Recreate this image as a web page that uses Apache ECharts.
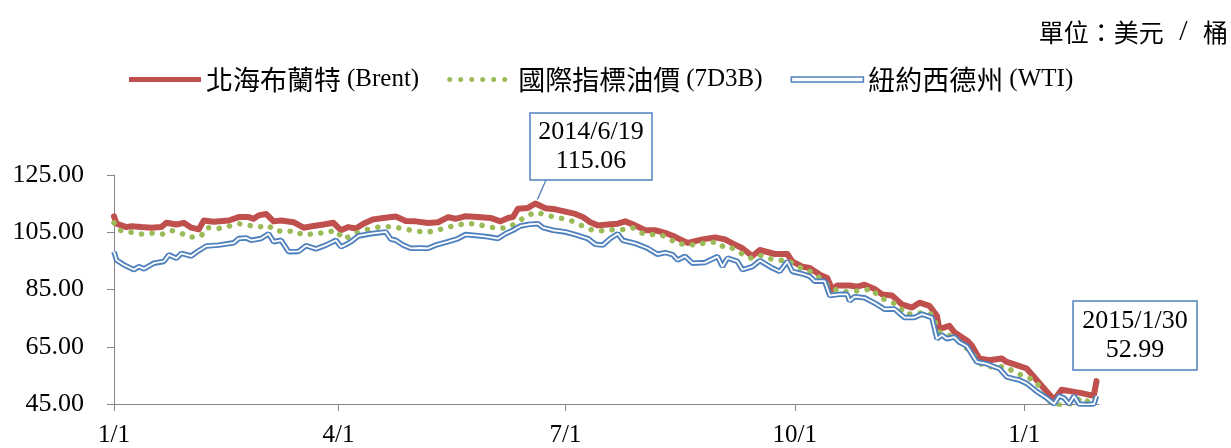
<!DOCTYPE html>
<html><head><meta charset="utf-8">
<script src="https://cdn.jsdelivr.net/npm/echarts@6/dist/echarts.min.js"></script>
<style>html,body{margin:0;padding:0;background:#fff}#c{width:1231px;height:448px}</style>
</head><body><div id="c"></div>
<script>
const seriesNames = ['北海布蘭特 (Brent)', '國際指標油價 (7D3B)', '紐約西德州 (WTI)'];
const unitParts = ['單位：美元', ' / ', '桶'];

const brentDates = ['2014-01-01','2014-01-02','2014-01-06','2014-01-08','2014-01-12','2014-01-16','2014-01-20','2014-01-22','2014-01-26','2014-01-29',
'2014-02-01','2014-02-04','2014-02-06','2014-02-10','2014-02-16','2014-02-20','2014-02-24','2014-02-26','2014-02-28',
'2014-03-03','2014-03-06','2014-03-09','2014-03-14','2014-03-18','2014-03-22','2014-03-26','2014-03-30',
'2014-04-02','2014-04-05','2014-04-08','2014-04-11','2014-04-15','2014-04-19','2014-04-24','2014-04-28',
'2014-05-02','2014-05-07','2014-05-11','2014-05-15','2014-05-18','2014-05-22','2014-05-27',
'2014-06-01','2014-06-05','2014-06-08','2014-06-10','2014-06-12','2014-06-16','2014-06-19','2014-06-23','2014-06-27',
'2014-07-01','2014-07-05','2014-07-08','2014-07-11','2014-07-14','2014-07-18','2014-07-22','2014-07-25','2014-07-29',
'2014-08-02','2014-08-06','2014-08-10','2014-08-14','2014-08-19','2014-08-25','2014-08-30',
'2014-09-03','2014-09-06','2014-09-10','2014-09-14','2014-09-17','2014-09-23','2014-09-28','2014-09-30',
'2014-10-04','2014-10-07','2014-10-11','2014-10-14','2014-10-16','2014-10-18','2014-10-23','2014-10-26','2014-10-29',
'2014-11-02','2014-11-05','2014-11-09','2014-11-13','2014-11-17','2014-11-20','2014-11-24','2014-11-27','2014-11-28',
'2014-12-02','2014-12-04','2014-12-09','2014-12-11','2014-12-14','2014-12-18','2014-12-23','2014-12-25','2014-12-29',
'2015-01-02','2015-01-06','2015-01-10','2015-01-13','2015-01-16','2015-01-20','2015-01-24','2015-01-28','2015-01-29','2015-01-30'];
const brentValues = [110.6,108.0,106.8,107.1,106.8,106.6,106.8,108.3,107.7,108.3,
106.6,106.0,109.1,108.7,109.1,110.3,110.3,109.7,110.9,
111.4,108.8,109.1,108.5,106.6,107.2,107.7,108.3,
105.7,106.8,106.3,108.0,109.5,110.0,110.5,108.9,
108.8,108.2,108.5,110.3,109.7,110.6,110.3,
110.0,108.8,110.0,110.3,113.2,113.5,115.06,113.4,113.0,
112.2,111.4,110.3,108.5,107.4,107.7,108.0,108.8,107.4,
105.7,105.7,104.8,103.4,101.3,102.5,103.2,
102.5,101.1,99.4,96.7,98.8,97.4,97.4,94.8,
93.0,92.5,90.2,89.0,85.0,86.4,86.4,86.0,86.7,
85.2,83.3,82.9,79.8,78.7,80.4,79.3,75.8,71.2,
72.3,70.1,67.2,65.4,60.9,60.3,60.9,59.7,58.6,
57.4,53.4,49.4,46.5,50.0,49.4,48.8,48.0,48.3,52.99];

const d3bDates = ['2014-01-01','2014-01-03','2014-01-07','2014-01-12','2014-01-16','2014-01-20','2014-01-24','2014-01-28','2014-01-31',
'2014-02-05','2014-02-07','2014-02-12','2014-02-16','2014-02-20','2014-02-24','2014-02-28',
'2014-03-04','2014-03-06','2014-03-11','2014-03-14','2014-03-18','2014-03-22','2014-03-27','2014-03-31',
'2014-04-03','2014-04-06','2014-04-10','2014-04-14','2014-04-19','2014-04-23','2014-04-27',
'2014-05-01','2014-05-05','2014-05-09','2014-05-13','2014-05-17','2014-05-21','2014-05-26','2014-05-30',
'2014-06-04','2014-06-08','2014-06-12','2014-06-15','2014-06-19','2014-06-23','2014-06-27',
'2014-07-02','2014-07-06','2014-07-10','2014-07-13','2014-07-17','2014-07-21','2014-07-25','2014-07-28','2014-07-31',
'2014-08-04','2014-08-08','2014-08-12','2014-08-15','2014-08-18','2014-08-22','2014-08-26','2014-08-31',
'2014-09-03','2014-09-06','2014-09-09','2014-09-13','2014-09-17','2014-09-20','2014-09-24','2014-09-28',
'2014-10-02','2014-10-06','2014-10-10','2014-10-14','2014-10-19','2014-10-22','2014-10-25','2014-10-28',
'2014-11-01','2014-11-04','2014-11-08','2014-11-12','2014-11-14','2014-11-18','2014-11-21','2014-11-25','2014-11-28',
'2014-12-01','2014-12-06','2014-12-10','2014-12-15','2014-12-18','2014-12-21','2014-12-25','2014-12-28',
'2015-01-02','2015-01-06','2015-01-09','2015-01-14','2015-01-18','2015-01-21','2015-01-24','2015-01-28','2015-01-30'];
const d3bValues = [108.3,105.7,105.1,104.4,104.7,104.2,105.6,104.7,103.2,
103.7,106.6,106.3,107.1,108.0,107.4,106.8,
107.4,105.7,105.1,105.6,104.0,104.5,104.9,105.7,
102.6,103.8,105.3,106.3,107.1,106.8,106.3,
105.5,105.1,105.3,106.3,107.2,107.9,108.0,107.1,
106.3,106.6,108.6,110.5,112.0,111.1,110.2,
109.5,108.0,106.3,105.5,105.5,106.0,106.0,106.6,104.8,
104.2,104.2,102.6,100.9,100.9,100.5,101.3,101.6,
99.4,99.4,97.9,95.9,97.0,96.0,95.1,95.3,
93.0,91.9,89.8,86.7,84.2,84.2,84.4,84.7,
85.2,82.1,81.0,79.2,76.4,76.4,76.9,76.4,70.1,
69.5,66.6,63.7,58.6,58.0,58.0,58.0,56.0,
54.5,52.8,47.1,44.5,45.0,45.0,47.3,45.0,47.1];

const wtiDates = ['2014-01-01','2014-01-02','2014-01-05','2014-01-09','2014-01-11','2014-01-13','2014-01-17','2014-01-21','2014-01-23','2014-01-26','2014-01-28',
'2014-02-01','2014-02-03','2014-02-07','2014-02-12','2014-02-18','2014-02-20','2014-02-23','2014-02-25',
'2014-03-01','2014-03-04','2014-03-06','2014-03-09','2014-03-12','2014-03-16','2014-03-19','2014-03-23','2014-03-27','2014-03-31',
'2014-04-02','2014-04-04','2014-04-06','2014-04-09','2014-04-14','2014-04-20','2014-04-22','2014-04-24','2014-04-27','2014-04-30',
'2014-05-04','2014-05-07','2014-05-10','2014-05-15','2014-05-19','2014-05-22','2014-05-27','2014-05-31',
'2014-06-04','2014-06-07','2014-06-10','2014-06-13','2014-06-16','2014-06-20','2014-06-22','2014-06-26',
'2014-07-01','2014-07-05','2014-07-10','2014-07-13','2014-07-16','2014-07-19','2014-07-22','2014-07-24','2014-07-29',
'2014-08-03','2014-08-07','2014-08-10','2014-08-13','2014-08-15','2014-08-18','2014-08-21','2014-08-26','2014-08-31',
'2014-09-02','2014-09-04','2014-09-08','2014-09-10','2014-09-14','2014-09-17','2014-09-22','2014-09-25','2014-09-28','2014-09-30',
'2014-10-04','2014-10-07','2014-10-09','2014-10-13','2014-10-15','2014-10-19','2014-10-22','2014-10-23','2014-10-25','2014-10-29',
'2014-11-03','2014-11-06','2014-11-10','2014-11-14','2014-11-18','2014-11-21','2014-11-25','2014-11-27','2014-11-29',
'2014-12-01','2014-12-04','2014-12-06','2014-12-09','2014-12-13','2014-12-17','2014-12-20','2014-12-22','2014-12-25','2014-12-28','2014-12-30',
'2015-01-02','2015-01-06','2015-01-10','2015-01-13','2015-01-15','2015-01-17','2015-01-19','2015-01-21','2015-01-23','2015-01-26','2015-01-29','2015-01-30'];
const wtiValues = [98.2,95.3,93.6,91.9,93.0,92.2,94.2,94.8,97.1,95.9,97.6,
96.7,98.0,100.2,100.5,101.3,102.8,103.0,102.2,
102.8,104.5,101.7,102.2,98.2,98.3,100.3,99.2,100.5,102.2,
99.9,100.7,101.7,103.7,104.5,105.1,102.6,102.2,100.5,99.4,
99.5,99.4,100.5,101.7,102.8,104.2,103.8,103.4,
102.8,104.5,105.7,107.2,107.7,108.0,106.6,105.7,
105.1,104.2,102.8,100.8,100.5,102.8,104.5,102.2,101.1,
99.4,97.3,97.9,97.2,95.3,96.6,94.2,94.4,96.5,
93.0,96.0,94.8,91.9,93.0,95.1,92.5,91.3,94.8,91.3,
90.5,89.6,87.9,87.9,82.9,83.3,83.3,81.0,82.5,82.1,
79.8,78.1,78.2,75.2,75.2,76.4,75.2,67.8,69.1,
67.8,68.4,66.6,65.2,59.7,59.0,58.0,57.4,54.5,53.8,53.4,
52.2,49.4,47.1,45.0,47.8,47.1,45.0,47.8,45.0,44.8,45.0,47.8];

const xTickDates = ['2014-01-01','2014-04-01','2014-07-01','2014-10-01','2015-01-01'];
const xRange = ['2014-01-01','2015-01-31'];
const yTicks = [45, 65, 85, 105, 125];
const callouts = [
  {date: '2014-06-19', value: 115.06, text: '2014/6/19\n115.06'},
  {date: '2015-01-30', value: 52.99, text: '2015/1/30\n52.99'}
];

function ts(s){ const p = s.split('-').map(Number); return new Date(p[0], p[1]-1, p[2]).getTime(); }
function pairs(ds, vs){ return ds.map((d,i)=>[ts(d), vs[i]]); }

const serif = 'Liberation Serif';
const cjk = 'Noto Sans CJK TC';
const axisGray = '#868686';

const chart = echarts.init(document.getElementById('c'), null, {renderer: 'canvas'});
const dotPath = 'path://' + [0,1,2,3,4,5].map(i => {
  const cx = 2.5 + i*11;
  return `M${cx-2.5},2.5a2.5,2.5 0 1,0 5,0a2.5,2.5 0 1,0 -5,0z`;
}).join(' ');

const xTickValues = xTickDates.map(ts);

chart.setOption({
  animation: false,
  backgroundColor: '#fff',
  grid: {left: 114, right: 132, top: 175, bottom: 42, containLabel: false},
  legend: {
    left: 124, top: 61, itemWidth: 72, itemHeight: 5, itemGap: 28,
    selectedMode: false,
    data: [
      {name: seriesNames[0], icon: 'rect', itemStyle: {color: '#C0504D', borderWidth: 0}},
      {name: seriesNames[1], icon: dotPath, itemStyle: {color: '#9BBB59', borderWidth: 0}},
      {name: seriesNames[2], icon: 'rect', itemStyle: {color: '#fff', borderColor: '#4F81BD', borderWidth: 1.6}}
    ],
    formatter: function(name){
      const i = name.indexOf(' (');
      return '{c|' + name.slice(0, i) + '} {l|' + name.slice(i+1) + '}';
    },
    textStyle: {
      color: '#000', fontFamily: serif, fontSize: 24,
      rich: {
        c: {fontFamily: cjk, fontSize: 27, color: '#000', lineHeight: 30},
        l: {fontFamily: serif, fontSize: 25, color: '#000', lineHeight: 30}
      }
    }
  },
  xAxis: {
    type: 'value',
    min: ts(xRange[0]), max: ts(xRange[1]),
    axisLine: {show: true, onZero: false, lineStyle: {color: axisGray, width: 1}},
    axisTick: {show: true, length: 7, lineStyle: {color: axisGray}, customValues: xTickValues},
    axisLabel: {
      customValues: xTickValues,
      margin: 19, color: '#000', fontFamily: serif, fontSize: 25,
      formatter: function(v){ const d = new Date(v); return (d.getMonth()+1) + '/' + d.getDate(); }
    },
    splitLine: {show: false}
  },
  yAxis: {
    type: 'value', min: yTicks[0], max: yTicks[yTicks.length-1], interval: yTicks[1]-yTicks[0],
    axisLine: {show: true, lineStyle: {color: axisGray, width: 1}},
    axisTick: {show: true, length: 7, lineStyle: {color: axisGray}},
    axisLabel: {margin: 30, color: '#000', fontFamily: serif, fontSize: 26,
      formatter: v => v.toFixed(2)},
    splitLine: {show: false}
  },
  series: [
    {name: seriesNames[0], type: 'line', data: pairs(brentDates, brentValues), showSymbol: false, symbol: 'none',
     lineStyle: {color: '#C0504D', width: 6, join: 'round', cap: 'round'}, itemStyle: {color: '#C0504D'}, z: 2, silent: true},
    {name: seriesNames[1], type: 'line', data: pairs(d3bDates, d3bValues), showSymbol: false, symbol: 'none',
     lineStyle: {color: '#9BBB59', width: 5.5, type: [0.1, 10.5], cap: 'round'}, itemStyle: {color: '#9BBB59'}, z: 3, silent: true},
    {name: seriesNames[2], type: 'line', data: pairs(wtiDates, wtiValues), showSymbol: false, symbol: 'none',
     lineStyle: {color: '#4F81BD', width: 5.5}, itemStyle: {color: '#4F81BD'}, z: 4, silent: true},
    {name: 'WTI_inner', type: 'line', data: pairs(wtiDates, wtiValues), showSymbol: false, symbol: 'none',
     lineStyle: {color: '#fff', width: 1.8}, itemStyle: {color: '#fff'}, z: 5, silent: true}
  ]
});

const p1 = chart.convertToPixel({gridIndex: 0}, [ts(callouts[0].date), callouts[0].value]);
function box(x, y, w, h, text){
  return {
    type: 'group', z: 100,
    children: [
      {type: 'rect', shape: {x: x, y: y, width: w, height: h}, style: {fill: '#fff', stroke: '#4F81BD', lineWidth: 1.5}},
      {type: 'text', x: x + w/2, y: y + h/2, style: {text: text, fill: '#000', font: '26px "Liberation Serif"', align: 'center', verticalAlign: 'middle', lineHeight: 29}}
    ]
  };
}
chart.setOption({
  graphic: [
    {type: 'text', right: 3, top: 17, style: {
      text: '{a|' + unitParts[0] + '}{b|' + unitParts[1] + '}{a|' + unitParts[2] + '}',
      rich: {
        a: {fontFamily: cjk, fontSize: 25, fill: '#000', padding: [0, 2, 0, 2]},
        b: {fontFamily: serif, fontSize: 30, fill: '#000', padding: [0, 6, 0, 6]}
      }
    }},
    {type: 'line', z: 99, shape: {x1: 546, y1: 180, x2: p1[0] + 2, y2: p1[1] - 4}, style: {stroke: '#4F81BD', lineWidth: 1.3}},
    box(530, 113, 122, 67, callouts[0].text),
    box(1073, 301, 124, 69, callouts[1].text)
  ]
});
</script>
</body></html>
